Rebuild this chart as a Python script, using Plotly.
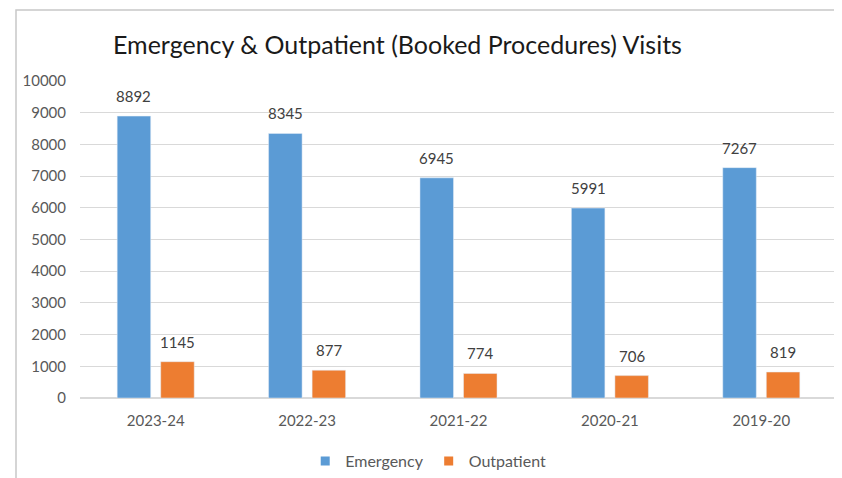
import plotly.graph_objects as go

years = ["2023-24", "2022-23", "2021-22", "2020-21", "2019-20"]
emergency = [8892, 8345, 6945, 5991, 7267]
outpatient = [1145, 877, 774, 706, 819]

# page puts the figure 8px in from the top-left corner
OFF = 8
W, H = 842 - OFF, 478 - OFF
ml, mr, mt, mb = 80 - OFF, 5, 81 - OFF, 80
pw, ph = W - ml - mr, H - mt - mb

font = "Lato, 'Open Sans', sans-serif"
blue, orange = "#5b9bd5", "#ed7d31"

fig = go.Figure()
fig.add_trace(go.Bar(x=years, y=emergency, name="Emergency", marker_color=blue, showlegend=False))
fig.add_trace(go.Bar(x=years, y=outpatient, name="Outpatient", marker_color=orange, showlegend=False))
# legend entries with small square markers
for name, col in [("Emergency", blue), ("Outpatient", orange)]:
    fig.add_trace(go.Scatter(x=[None], y=[None], mode="markers", name=name,
                             marker=dict(symbol="square", size=9, color=col)))

# value labels above bars
for vals, dx in [(emergency, -21.7), (outpatient, 21.7)]:
    for yr, v in zip(years, vals):
        fig.add_annotation(x=yr, y=v, text=str(v), showarrow=False, xshift=dx,
                           yanchor="bottom", yshift=9,
                           font=dict(family=font, size=15, color="#404040"))

# chart frame
fig.add_shape(type="rect", xref="paper", yref="paper",
              x0=(16 - OFF - ml) / pw, x1=(W + 10 - ml) / pw,
              y0=-(mb + 10) / ph, y1=(H - mb - (10 - OFF)) / ph,
              line=dict(color="#c8c8c8", width=1.5), layer="below")

fig.update_layout(
    width=W, height=H,
    margin=dict(l=ml, r=mr, t=mt, b=mb, autoexpand=False),
    paper_bgcolor="white", plot_bgcolor="white",
    font=dict(family=font, color="#595959"),
    title=dict(text="Emergency & Outpatient (Booked Procedures) Visits",
               x=(113 - OFF) / W, xanchor="left", y=1 - (45 - OFF) / H, yanchor="middle",
               font=dict(size=25, color="#1a1a1a")),
    barmode="group", bargap=0.425, bargroupgap=0.23,
    legend=dict(orientation="h", x=0.46, xanchor="center", y=-(461 - 398) / ph, yanchor="middle",
                font=dict(size=16, color="#595959"), itemwidth=30, tracegroupgap=0),
    showlegend=True,
)
fig.update_yaxes(range=[0, 10000], dtick=1000, tickformat="d", showgrid=True, gridcolor="#d9d9d9",
                 zeroline=True, zerolinecolor="#d9d9d9", tickfont=dict(size=15),
                 ticks="", ticklabelstandoff=13)
fig.update_xaxes(showline=True, linecolor="#d9d9d9", tickfont=dict(size=15), ticks="",
                 ticklabelstandoff=9)

fig.write_html("out.html")
